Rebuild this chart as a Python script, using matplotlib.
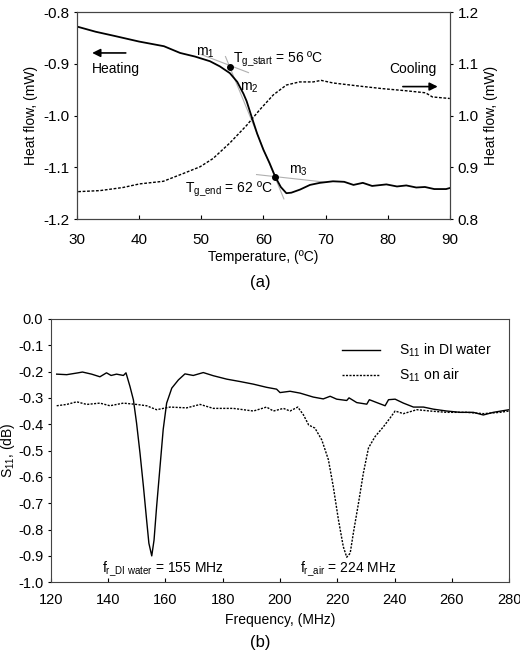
import matplotlib
matplotlib.use('Agg')
import matplotlib.pyplot as plt

plt.rcParams['font.family'] = ['Liberation Sans', 'DejaVu Sans']
plt.rcParams['mathtext.fontset'] = 'custom'
plt.rcParams['mathtext.rm'] = 'Liberation Sans'
plt.rcParams['mathtext.it'] = 'Liberation Sans'
plt.rcParams['axes.unicode_minus'] = False

# (a) DSC heat flow
heat_temp = [30, 33, 36, 40, 44, 46.6, 49, 51.4, 53, 54.6, 55.8, 56.8, 57.3, 58.1, 59, 60,
             61, 61.9, 62.8, 63.7, 64.5, 65.9, 67.5, 69.1, 71.2, 73, 74.5, 76, 77.5,
             79.8, 81.5, 83, 84.6, 86, 87.5, 89.4, 90]
heat_flow = [-0.828, -0.838, -0.846, -0.857, -0.866, -0.879, -0.886, -0.895, -0.905, -0.918,
             -0.935, -0.958, -0.972, -1.002, -1.035, -1.066, -1.092, -1.118, -1.138, -1.15,
             -1.149, -1.143, -1.134, -1.13, -1.127, -1.128, -1.134, -1.13, -1.136,
             -1.133, -1.137, -1.135, -1.139, -1.138, -1.142, -1.142, -1.14]

cool_temp = [30.2, 33.7, 37.4, 40.1, 43.9, 47.1, 49.8, 51.9, 54.6, 57.3, 59.4, 61.6, 63.7,
             65.8, 68, 69.3, 71.2, 75.4, 79.2, 82.9, 86.1, 87.2, 90]
cool_flow = [0.853, 0.855, 0.861, 0.868, 0.873, 0.888, 0.901, 0.917, 0.947, 0.981, 1.011,
             1.040, 1.059, 1.065, 1.065, 1.068, 1.063, 1.057, 1.052, 1.048, 1.044, 1.036, 1.033]

tg_points_x = [54.6, 61.85]
tg_points_y = [-0.906, -1.118]
m1_x, m1_y = [50.0, 57.6], [-0.882, -0.917]
m2_x, m2_y = [53.9, 63.3], [-0.886, -1.161]
m3_x, m3_y = [58.9, 70.2], [-1.114, -1.129]

# (b) S11
water_freq = [122, 125.5, 129.5, 131, 134.2, 137.1, 139.4, 141, 142.9, 145.3, 146.2, 147.6,
              148.8, 149.9, 151.1, 152.3, 153.4, 154.2, 155.2, 156, 156.9, 158.1, 159.2,
              160.4, 162.2, 164.5, 166.8, 169.7, 173.2, 176.7, 181.4, 186, 190.7, 195.3,
              198.8, 200, 203.5, 207, 211.6, 215.1, 217.5, 219.8, 223.3, 224.1, 226.8,
              230.3, 231.2, 233.8, 236.7, 237.9, 240.2, 243.1, 246.6, 250.1, 253.6, 258.2,
              262.9, 267.5, 271, 274.5, 280]
water_s11 = [-0.21, -0.212, -0.205, -0.202, -0.21, -0.22, -0.205, -0.215, -0.21, -0.215,
             -0.205, -0.257, -0.308, -0.396, -0.51, -0.637, -0.763, -0.852, -0.90, -0.84,
             -0.713, -0.56, -0.42, -0.32, -0.263, -0.232, -0.209, -0.215, -0.204, -0.216,
             -0.229, -0.238, -0.248, -0.26, -0.267, -0.28, -0.275, -0.282, -0.297, -0.304,
             -0.294, -0.305, -0.31, -0.30, -0.318, -0.324, -0.307, -0.318, -0.33, -0.307,
             -0.305, -0.32, -0.335, -0.335, -0.343, -0.35, -0.355, -0.355, -0.365, -0.355,
             -0.345]

air_freq = [122, 125.5, 129, 132.5, 137.1, 140.6, 145.3, 149.9, 153.4, 156.9, 161.6, 167.4,
            172.1, 176.7, 183.7, 190.7, 195.3, 197.7, 201.2, 203.5, 206.2, 208.2, 210,
            212.2, 214.6, 216.9, 218.6, 220.4, 222.1, 223.3, 224.5, 225.6, 227.4, 229.1,
            230.9, 233.2, 236.1, 238.4, 240.2, 243.1, 247.8, 252.4, 258.2, 265.2, 271,
            276.8, 280]
air_s11 = [-0.33, -0.325, -0.315, -0.325, -0.32, -0.33, -0.32, -0.325, -0.33, -0.345,
           -0.335, -0.338, -0.325, -0.34, -0.34, -0.35, -0.335, -0.35, -0.34, -0.35,
           -0.335, -0.365, -0.403, -0.415, -0.46, -0.535, -0.637, -0.763, -0.865, -0.905,
           -0.89, -0.814, -0.70, -0.586, -0.49, -0.447, -0.41, -0.377, -0.35, -0.36,
           -0.345, -0.35, -0.355, -0.355, -0.36, -0.355, -0.35]

fig = plt.figure(figsize=(5.2, 6.52), dpi=100)
dash = (0, (2, 1.2))

# ---- panel (a)
ax1 = fig.add_axes([0.148, 0.664, 0.717, 0.3175])
ax2 = ax1.twinx()
ax1.plot(m1_x, m1_y, color='#b0b0b0', lw=0.8)
ax1.plot(m2_x, m2_y, color='#b0b0b0', lw=0.8)
ax1.plot(m3_x, m3_y, color='#b0b0b0', lw=0.8)
ax1.plot(heat_temp, heat_flow, color='black', lw=1.3)
ax1.plot(tg_points_x, tg_points_y, 'o', color='black', ms=4)
ax2.plot(cool_temp, cool_flow, color='black', lw=1, linestyle=dash)

ax1.set_xlim(30, 90)
ax1.set_ylim(-1.2, -0.8)
ax2.set_ylim(0.8, 1.2)
ax1.set_xticks(range(30, 91, 10))
ax1.set_yticks([-1.2, -1.1, -1.0, -0.9, -0.8])
ax1.set_yticklabels(['-1.2', '-1.1', '-1.0', '-0.9', '-0.8'])
ax2.set_yticks([0.8, 0.9, 1.0, 1.1, 1.2])
ax2.set_yticklabels(['0.8', '0.9', '1.0', '1.1', '1.2'])
ax1.tick_params(axis='x', direction='in', length=3, labelsize=11, pad=10)
ax1.tick_params(axis='y', direction='out', length=2, labelsize=11)
ax2.tick_params(axis='y', direction='out', length=2, labelsize=11)
ax1.set_xlabel('Temperature, (ºC)', fontsize=10, labelpad=2)
ax1.set_ylabel('Heat flow, (mW)', fontsize=10)
ax2.set_ylabel('Heat flow, (mW)', fontsize=10)

ax1.text(50.6, -0.879, 'm$_1$', fontsize=10, ha='center', va='center')
ax1.text(55.1, -0.892, 'T$_{\\mathrm{g\\_start}}$ = 56 ºC', fontsize=10, ha='left', va='center')
ax1.text(57.8, -0.946, 'm$_2$', fontsize=10, ha='center', va='center')
ax1.text(65.6, -1.106, 'm$_3$', fontsize=10, ha='center', va='center')
ax1.text(47.4, -1.143, 'T$_{\\mathrm{g\\_end}}$ = 62 ºC', fontsize=10, ha='left', va='center')
ax1.text(36.2, -0.91, 'Heating', fontsize=10, ha='center', va='center')
ax1.text(84.1, -0.91, 'Cooling', fontsize=10, ha='center', va='center')
ax1.annotate('', xy=(32.0, -0.879), xytext=(38.3, -0.879),
             arrowprops=dict(arrowstyle='-|>', color='black', lw=1.2, mutation_scale=12))
ax1.annotate('', xy=(88.5, -0.944), xytext=(82.0, -0.944),
             arrowprops=dict(arrowstyle='-|>', color='black', lw=1.2, mutation_scale=12))
fig.text(0.5, 0.567, '(a)', fontsize=12, ha='center', va='center')

# ---- panel (b)
ax3 = fig.add_axes([0.098, 0.107, 0.881, 0.404])
ax3.plot(water_freq, water_s11, color='black', lw=1, label='S$_{11}$ in DI water')
ax3.plot(air_freq, air_s11, color='black', lw=1, linestyle=(0, (1.5, 1)), label='S$_{11}$ on air')
ax3.set_xlim(120, 280)
ax3.set_ylim(-1.0, 0.0)
ax3.set_xticks(range(120, 281, 20))
yt = [-1.0 + 0.1 * i for i in range(11)]
ax3.set_yticks(yt)
ax3.set_yticklabels(['%.1f' % v if abs(v) > 1e-9 else '0.0' for v in yt])
ax3.tick_params(axis='x', direction='in', length=3, labelsize=10.5, pad=8)
ax3.tick_params(axis='y', direction='out', length=2, labelsize=10.5)
ax3.set_xlabel('Frequency, (MHz)', fontsize=10, labelpad=4)
ax3.set_ylabel('S$_{11}$, (dB)', fontsize=10, labelpad=1)
ax3.legend(loc='upper right', bbox_to_anchor=(0.99, 0.96), frameon=False, fontsize=10,
           handlelength=2.7, handletextpad=1.4, labelspacing=0.55)
ax3.text(137.7, -0.952, 'f$_{\\mathrm{r\\_DI\\ water}}$ = 155 MHz', fontsize=10, ha='left', va='center')
ax3.text(207, -0.952, 'f$_{\\mathrm{r\\_air}}$ = 224 MHz', fontsize=10, ha='left', va='center')
fig.text(0.5, 0.014, '(b)', fontsize=12, ha='center', va='center')

for ax in (ax1, ax2, ax3):
    for s in ax.spines.values():
        s.set_color('#444444')

fig.savefig('out.png', dpi=100)
